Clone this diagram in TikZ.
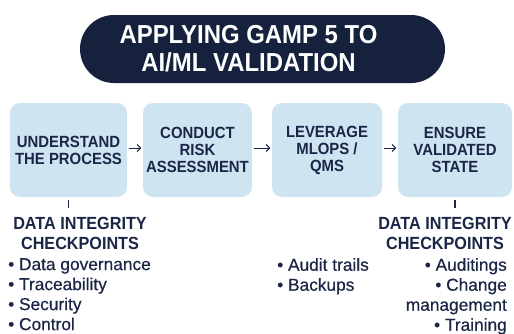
\documentclass[tikz,border=0pt]{standalone}
\usepackage{fontspec}
\setmainfont{Liberation Sans}
\newfontfamily\capsfont{Liberation Sans}[FakeStretch=0.92]
\newfontfamily\listfont{Liberation Sans}[FakeBold=0.5]
\usepackage{xcolor}
\usetikzlibrary{positioning,arrows.meta}
\definecolor{ink}{RGB}{27,38,70}
\definecolor{pillnavy}{RGB}{22,33,62}
\definecolor{stepblue}{RGB}{206,228,241}
\tikzset{
  pill/.style={fill=pillnavy, rounded corners=34pt, minimum width=365pt, minimum height=68pt},
  pilltext/.style={align=center, inner sep=0pt, text=white,
    font=\capsfont\fontsize{26}{28}\selectfont\bfseries},
  stepbox/.style={fill=stepblue, rounded corners=10pt, minimum height=94pt, align=center,
    inner sep=0pt, text=ink, font=\capsfont\fontsize{16.2}{17}\selectfont\bfseries},
  flow/.style={-{Straight Barb[length=3.5pt,width=7pt]}, line width=1pt, draw=ink,
    shorten >=1.5pt, shorten <=1.5pt},
  tick/.style={line width=1.4pt, draw=ink},
  head/.style={align=center, inner sep=0pt, text=ink,
    font=\capsfont\fontsize{17.6}{20}\selectfont\bfseries},
  items/.style={inner sep=0pt, text=ink, font=\listfont\fontsize{17.3}{20}\selectfont},
}

\begin{document}
\begin{tikzpicture}[x=1pt,y=-1pt]
  \useasboundingbox (0,0) rectangle (514,333);
  \node[pill] (title) at (262.5,49) {};
  \node[pilltext] (titletext) at ([xshift=-14pt]title.center) {APPLYING GAMP 5 TO\\AI/ML VALIDATION};

  \node[stepbox, minimum width=117pt] (understand) at (68.5,150) {UNDERSTAND\\THE PROCESS};
  \node[stepbox, minimum width=109pt] (conduct) at (197.5,150) {CONDUCT\\RISK\\ASSESSMENT};
  \node[stepbox, minimum width=110pt] (leverage) at (327,150) {LEVERAGE\\MLOPS /\\QMS};
  \node[stepbox, minimum width=114pt] (ensure) at (455,150) {ENSURE\\VALIDATED\\STATE};

  \draw[flow] ([yshift=2pt]understand.east) -- ([yshift=2pt]conduct.west);
  \draw[flow] ([yshift=2pt]conduct.east) -- ([yshift=2pt]leverage.west);
  \draw[flow] ([yshift=2pt]leverage.east) -- ([yshift=2pt]ensure.west);

  \draw[tick] ([yshift=-3pt]understand.south) -- ([yshift=-11pt]understand.south);
  \draw[tick] ([yshift=-3pt]ensure.south) -- ([yshift=-11pt]ensure.south);

  \node[head] (checksleft) at (80,233) {DATA INTEGRITY\\CHECKPOINTS};
  \node[head] (checksright) at (445,233) {DATA INTEGRITY\\CHECKPOINTS};

  \node[items, anchor=north west, align=left] (listleft) at (8,258)
    {• Data governance\\• Traceability\\• Security\\• Control};
  \node[items, anchor=north west, align=left] (listmid) at (277,258)
    {• Audit trails\\• Backups};
  \node[items, anchor=north east, align=right] (listright) at (507,258)
    {• Auditings\\• Change\\management\\• Training};
\end{tikzpicture}
\end{document}
